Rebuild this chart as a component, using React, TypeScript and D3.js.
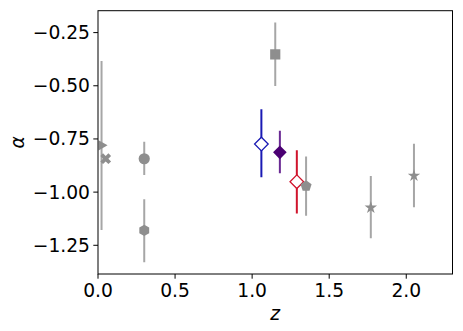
import React from "react";
import * as d3 from "d3";

const zVals = [0.023, 0.05, 0.3, 0.3, 1.15, 1.06, 1.18, 1.29, 1.35, 1.77, 2.05];
const alphaVals = [-0.78, -0.843, -0.843, -1.18, -0.352, -0.774, -0.813, -0.951, -0.971, -1.073, -0.923];
const alphaUpper = [-0.383, -0.843, -0.763, -1.034, -0.203, -0.61, -0.712, -0.803, -0.833, -0.924, -0.772];
const alphaLower = [-1.178, -0.843, -0.919, -1.33, -0.501, -0.93, -0.911, -1.1, -1.111, -1.217, -1.071];
const markerKinds = ["triangleRight", "x", "circle", "hexagon", "square", "diamondOpen", "diamondFilled", "diamondOpen", "pentagon", "star", "star"];
const markerColors = ["#8e8e8e", "#8e8e8e", "#8e8e8e", "#8e8e8e", "#8e8e8e", "#1a1ab4", "#4b0073", "#d0142c", "#8e8e8e", "#8e8e8e", "#8e8e8e"];
const barColors = ["#a6a6a6", "#a6a6a6", "#a6a6a6", "#a6a6a6", "#a6a6a6", "#1a1ab4", "#6a2a94", "#d0142c", "#a6a6a6", "#a6a6a6", "#a6a6a6"];

const xTicks = [0, 0.5, 1.0, 1.5, 2.0];
const yTicks = [-0.25, -0.5, -0.75, -1.0, -1.25];

const W = 463;
const H = 331;
const L = 98;
const R = 452.5;
const T = 10.7;
const B = 274;
const FONT = "DejaVu Sans, sans-serif";

function polygon(n: number, r: number, rot: number) {
  const pts: [number, number][] = [];
  for (let i = 0; i < n; i++) {
    const a = rot + (i * 2 * Math.PI) / n;
    pts.push([r * Math.cos(a), r * Math.sin(a)]);
  }
  return "M" + pts.map((p) => p.join(",")).join("L") + "Z";
}

function markerPath(kind: string) {
  switch (kind) {
    case "circle":
      return d3.symbol(d3.symbolCircle, Math.PI * 5.6 * 5.6)() as string;
    case "square":
      return polygon(4, 7.2, Math.PI / 4);
    case "diamondOpen":
    case "diamondFilled":
      return polygon(4, 6.8, 0);
    case "hexagon":
      return polygon(6, 5.7, -Math.PI / 2);
    case "pentagon":
      return polygon(5, 5.8, -Math.PI / 2);
    case "star":
      return d3.symbol(d3.symbolStar, 48)() as string;
    case "triangleRight":
      return polygon(3, 6, 0);
    case "x":
      return d3.symbol(d3.symbolCross, 72)() as string;
    default:
      return "";
  }
}

export default function App() {
  const x = d3.scaleLinear().domain([0, 2.3]).range([L, R]);
  const y = d3.scaleLinear().domain([-1.385, -0.147]).range([B, T]);
  const fmtY = (v: number) => d3.format(".2f")(v).replace("-", "\u2212");
  const fmtX = d3.format(".1f");

  return (
    <svg width={W} height={H} style={{ position: "absolute", left: 0, top: 0, background: "#fff" }}>
      <defs>
        <clipPath id="plotclip">
          <rect x={L} y={T} width={R - L} height={B - T} />
        </clipPath>
      </defs>
      <rect x={0} y={0} width={W} height={H} fill="#fff" />
      <g clipPath="url(#plotclip)">
        {zVals.map((z, i) => (
          <line
            key={"e" + i}
            x1={x(z)}
            x2={x(z)}
            y1={y(alphaUpper[i])}
            y2={y(alphaLower[i])}
            stroke={barColors[i]}
            strokeWidth={2}
          />
        ))}
        {zVals.map((z, i) => {
          const kind = markerKinds[i];
          const open = kind === "diamondOpen";
          const rot = kind === "x" ? 45 : 0;
          return (
            <path
              key={"m" + i}
              d={markerPath(kind)}
              transform={`translate(${x(z)},${y(alphaVals[i])}) rotate(${rot})`}
              fill={open ? "#fff" : markerColors[i]}
              stroke={open ? markerColors[i] : "none"}
              strokeWidth={open ? 1.3 : 0}
            />
          );
        })}
      </g>
      <rect x={L} y={T} width={R - L} height={B - T} fill="none" stroke="#000" strokeWidth={1} />
      {xTicks.map((t) => (
        <g key={"xt" + t}>
          <line x1={x(t)} x2={x(t)} y1={B} y2={B + 4.7} stroke="#000" strokeWidth={1} />
          <text x={x(t)} y={B + 22.5} textAnchor="middle" fontFamily={FONT} fontSize={18.7} fill="#000">
            {fmtX(t)}
          </text>
        </g>
      ))}
      {yTicks.map((t) => (
        <g key={"yt" + t}>
          <line x1={L - 4.7} x2={L} y1={y(t)} y2={y(t)} stroke="#000" strokeWidth={1} />
          <text x={L - 8} y={y(t)} dy="0.35em" textAnchor="end" fontFamily={FONT} fontSize={18.7} fill="#000">
            {fmtY(t)}
          </text>
        </g>
      ))}
      <text x={(L + R) / 2} y={320} textAnchor="middle" fontFamily={FONT} fontStyle="italic" fontSize={18.7} fill="#000">
        z
      </text>
      <text
        transform={`translate(24,${(T + B) / 2}) rotate(-90)`}
        textAnchor="middle"
        fontFamily={FONT}
        fontStyle="italic"
        fontSize={18.7}
        fill="#000"
      >
        α
      </text>
    </svg>
  );
}
